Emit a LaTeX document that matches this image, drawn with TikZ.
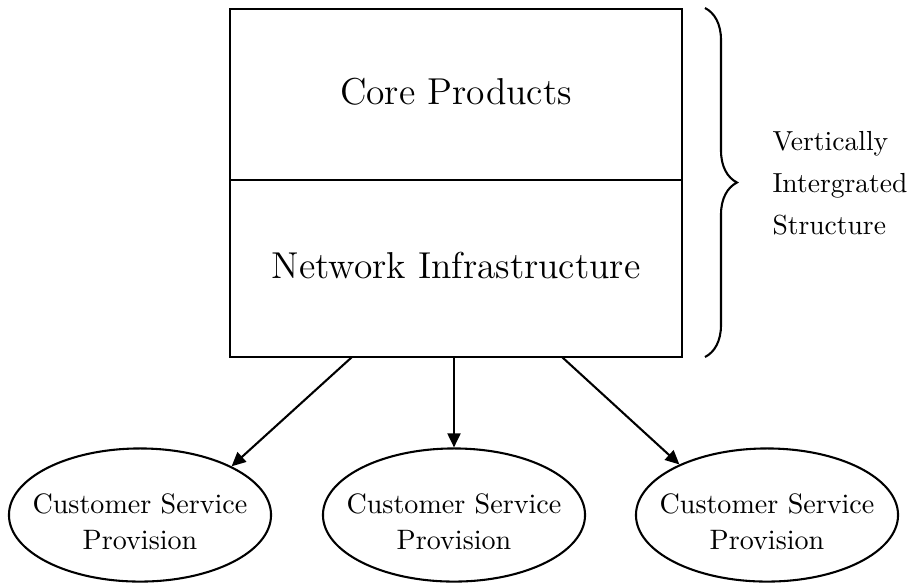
\documentclass[tikz,border=0pt]{standalone}
\usetikzlibrary{shapes.geometric,decorations.pathreplacing,arrows.meta}
\begin{document}
\begin{tikzpicture}[x=0.3846pt, y=-0.3846pt]
\useasboundingbox (0,0) rectangle (912,584);
\tikzset{
  layer/.style={draw, thick, minimum width=173.8pt, text depth=2.5pt, font=\Large},
  provision/.style={draw, thick, ellipse, inner xsep=-10pt, inner ysep=0pt, minimum width=100.8pt, minimum height=51.2pt, text height=27pt, align=center, font=\fontsize{10.8}{14.2}\selectfont},
}

\node (core) [layer, minimum height=65.8pt] at (456,94.5) {Core Products};
\node (network) [layer, minimum height=68.1pt] at (456,268.5) {Network Infrastructure};

\node (csp1) [provision] at (140,515) {Customer Service\\Provision};
\node (csp2) [provision] at (454,515) {Customer Service\\Provision};
\node (csp3) [provision] at (767,515) {Customer Service\\Provision};

\coordinate (S1) at (352,357);
\coordinate (S2) at (454,357);
\coordinate (S3) at (562,357);

\draw [->, >= {Triangle[length=5.4pt, width=5pt]}, thick] (S1) -- (csp1.28);
\draw [->, >= {Triangle[length=5.4pt, width=5pt]}, thick] (S2) -- (csp2.north);
\draw [->, >= {Triangle[length=5.4pt, width=5pt]}, thick] (S3) -- (csp3.150);

\coordinate (T) at (705,8);
\coordinate (B) at (705,357);
\draw [thick, decorate, decoration={brace, amplitude=12.3pt}] (T) -- (B);
\node (vis) [anchor=west, align=left, inner sep=0pt, font=\fontsize{10.6}{16.2}\selectfont] at (772,183) {Vertically\\Intergrated\\Structure};
\end{tikzpicture}
\end{document}
